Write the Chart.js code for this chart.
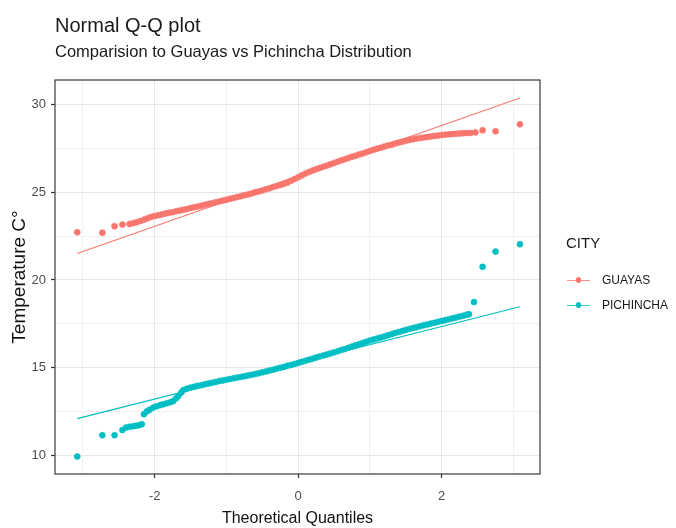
<!DOCTYPE html>
<html>
<head>
<meta charset="utf-8">
<script src="https://cdn.jsdelivr.net/npm/chart.js@4.4.1/dist/chart.umd.min.js"></script>
<style>
  html, body { margin: 0; padding: 0; background: #ffffff; }
  #wrap { position: relative; width: 676px; height: 528px; overflow: hidden; }
  #chart { position: absolute; left: 0; top: 0; }
  .lg { position: absolute; font-family: "Liberation Sans", Arial, sans-serif; color: #1a1a1a; white-space: nowrap; }
</style>
</head>
<body>
<div id="wrap">
  <canvas id="chart" width="676" height="528"></canvas>
  <div id="legend"></div>
</div>
<script>
// ---------------- DATA ----------------
const chartTitle = "Normal Q-Q plot";
const chartSubtitle = "Comparision to Guayas vs Pichincha Distribution";
const xAxisTitle = "Theoretical Quantiles";
const yAxisTitle = "Temperature C°";
const legendTitle = "CITY";
const seriesNames = ["GUAYAS", "PICHINCHA"];
const seriesColors = ["#F8766D", "#00BFC4"];

// Guayas sample quantiles (theoretical quantile, temperature)
const guayasX = [-3.08, -2.73, -2.56, -2.45,
  -2.35, -2.30, -2.25, -2.20, -2.15, -2.10, -2.05, -2.00, -1.95, -1.90, -1.85, -1.80,
  -1.75, -1.70, -1.65, -1.60, -1.55, -1.50, -1.45, -1.40, -1.35, -1.30, -1.25, -1.20,
  -1.15, -1.10, -1.05, -1.00, -0.95, -0.90, -0.85, -0.80, -0.75, -0.70, -0.65, -0.60,
  -0.55, -0.50, -0.45, -0.40, -0.35, -0.30, -0.25, -0.20, -0.15, -0.10, -0.05, 0.00,
  0.05, 0.10, 0.15, 0.20, 0.25, 0.30, 0.35, 0.40, 0.45, 0.50, 0.55, 0.60,
  0.65, 0.70, 0.75, 0.80, 0.85, 0.90, 0.95, 1.00, 1.05, 1.10, 1.15, 1.20,
  1.25, 1.30, 1.35, 1.40, 1.45, 1.50, 1.55, 1.60, 1.65, 1.70, 1.75, 1.80,
  1.85, 1.90, 1.95, 2.00, 2.05, 2.10, 2.15, 2.20, 2.25, 2.30, 2.35, 2.40,
  2.47, 2.57, 2.75, 3.09];
const guayasY = [22.72, 22.70, 23.07, 23.16,
  23.20, 23.24, 23.30, 23.36, 23.44, 23.52, 23.60, 23.65, 23.70, 23.74, 23.79, 23.83,
  23.87, 23.92, 23.96, 24.01, 24.05, 24.10, 24.15, 24.19, 24.24, 24.29, 24.34, 24.38,
  24.43, 24.48, 24.53, 24.58, 24.63, 24.68, 24.73, 24.78, 24.83, 24.88, 24.94, 25.00,
  25.05, 25.11, 25.17, 25.23, 25.30, 25.36, 25.42, 25.49, 25.56, 25.66, 25.76, 25.86,
  25.97, 26.07, 26.16, 26.24, 26.32, 26.39, 26.46, 26.53, 26.60, 26.68, 26.75, 26.82,
  26.89, 26.96, 27.03, 27.09, 27.16, 27.22, 27.29, 27.36, 27.43, 27.49, 27.55, 27.61,
  27.67, 27.72, 27.78, 27.84, 27.89, 27.94, 27.99, 28.03, 28.07, 28.10, 28.13, 28.16,
  28.19, 28.22, 28.24, 28.27, 28.29, 28.31, 28.33, 28.34, 28.36, 28.37, 28.38, 28.39,
  28.42, 28.54, 28.48, 28.88];

// Pichincha sample quantiles
const pichinchaX = [-3.08, -2.73, -2.56, -2.45, -2.40, -2.35, -2.30, -2.26, -2.22, -2.18,
  -2.15, -2.11, -2.07, -2.02, -1.97, -1.92, -1.88, -1.83, -1.78, -1.74, -1.70, -1.67,
  -1.63, -1.60, -1.55, -1.50,
  -1.45, -1.40, -1.35, -1.30, -1.25, -1.20, -1.15, -1.10, -1.05, -1.00, -0.95, -0.90,
  -0.85, -0.80, -0.75, -0.70, -0.65, -0.60, -0.55, -0.50, -0.45, -0.40, -0.35, -0.30,
  -0.25, -0.20, -0.15, -0.10, -0.05, 0.00, 0.05, 0.10, 0.15, 0.20, 0.25, 0.30,
  0.35, 0.40, 0.45, 0.50, 0.55, 0.60, 0.65, 0.70, 0.75, 0.80, 0.85, 0.90,
  0.95, 1.00, 1.05, 1.10, 1.15, 1.20, 1.25, 1.30, 1.35, 1.40, 1.45, 1.50,
  1.55, 1.60, 1.65, 1.70, 1.75, 1.80, 1.85, 1.90, 1.95, 2.00, 2.05, 2.10,
  2.15, 2.20, 2.25, 2.30, 2.35, 2.38,
  2.45, 2.57, 2.75, 3.09];
const pichinchaY = [9.93, 11.14, 11.14, 11.44, 11.58, 11.63, 11.65, 11.68, 11.71, 11.77,
  12.34, 12.50, 12.60, 12.72, 12.80, 12.86, 12.91, 12.97, 13.03, 13.10, 13.25, 13.38,
  13.58, 13.72, 13.80, 13.86,
  13.91, 13.96, 14.00, 14.05, 14.09, 14.14, 14.18, 14.23, 14.27, 14.31, 14.35, 14.39,
  14.43, 14.47, 14.51, 14.55, 14.59, 14.63, 14.68, 14.73, 14.78, 14.83, 14.88, 14.94,
  14.99, 15.04, 15.10, 15.15, 15.21, 15.27, 15.33, 15.39, 15.45, 15.51, 15.57, 15.63,
  15.69, 15.75, 15.81, 15.87, 15.93, 16.00, 16.06, 16.13, 16.20, 16.27, 16.34, 16.41,
  16.48, 16.54, 16.60, 16.66, 16.72, 16.78, 16.84, 16.91, 16.97, 17.03, 17.09, 17.15,
  17.21, 17.26, 17.31, 17.36, 17.41, 17.46, 17.51, 17.56, 17.61, 17.66, 17.71, 17.76,
  17.81, 17.86, 17.91, 17.96, 18.02, 18.05,
  18.74, 20.75, 21.62, 22.04];

// Reference (Q-Q) lines, endpoints
const qqLineX = [-3.08, 3.09];
const guayasLineY = [21.51, 30.38];
const pichinchaLineY = [12.09, 18.47];

// Axis ranges and tick settings
const xMin = -3.39, xMax = 3.37, xStep = 1, xLabelEvery = 2;
const yMin = 8.93, yMax = 31.41, yStep = 2.5, yLabelEvery = 5;
// -----------------------------------------------------------------------

const FONT = '"Liberation Sans", Arial, sans-serif';
const toPts = (xs, ys) => xs.map((x, i) => ({ x: x, y: ys[i] }));
const isMult = (v, m) => Math.abs(v / m - Math.round(v / m)) < 1e-6;

const panelBorder = {
  id: 'panelBorder',
  afterDatasetsDraw(chart) {
    const a = chart.chartArea, c = chart.ctx;
    c.save();
    c.strokeStyle = '#3a3a3a';
    c.lineWidth = 1.2;
    c.strokeRect(a.left, a.top, a.right - a.left, a.bottom - a.top);
    c.restore();
  }
};

const gridColor = (ctx, m) => (ctx.tick && isMult(ctx.tick.value, m)) ? '#e6e6e6' : '#f1f1f1';
const tickColor = (ctx, m) => (ctx.tick && isMult(ctx.tick.value, m)) ? '#333333' : 'rgba(0,0,0,0)';

new Chart(document.getElementById('chart'), {
  type: 'scatter',
  data: {
    datasets: [
      { label: seriesNames[0] + ' line', data: toPts(qqLineX, guayasLineY), showLine: true,
        borderColor: seriesColors[0], borderWidth: 1.1, pointRadius: 0, fill: false, order: 0 },
      { label: seriesNames[1] + ' line', data: toPts(qqLineX, pichinchaLineY), showLine: true,
        borderColor: seriesColors[1], borderWidth: 1.1, pointRadius: 0, fill: false, order: 0 },
      { label: seriesNames[0], data: toPts(guayasX, guayasY),
        backgroundColor: seriesColors[0], borderColor: seriesColors[0], borderWidth: 0.6, pointRadius: 3, order: 1 },
      { label: seriesNames[1], data: toPts(pichinchaX, pichinchaY),
        backgroundColor: seriesColors[1], borderColor: seriesColors[1], borderWidth: 0.6, pointRadius: 3, order: 1 }
    ]
  },
  options: {
    responsive: false,
    animation: false,
    devicePixelRatio: 1,
    layout: { padding: { left: 8, right: 136, top: 0, bottom: 0 } },
    plugins: {
      legend: { display: false },
      tooltip: { enabled: false },
      title: { display: true, text: chartTitle, align: 'start', fullSize: false,
        color: '#1a1a1a', font: { family: FONT, size: 20, weight: 'normal' }, padding: { top: 14, bottom: 2 } },
      subtitle: { display: true, text: chartSubtitle, align: 'start', fullSize: false,
        color: '#1a1a1a', font: { family: FONT, size: 16.5, weight: 'normal' }, padding: { top: 3, bottom: 17.2 } }
    },
    scales: {
      x: {
        type: 'linear', position: 'bottom', min: xMin, max: xMax,
        afterFit: s => { s.height = 54; },
        border: { display: false },
        grid: { color: c => gridColor(c, xLabelEvery), lineWidth: 1, tickLength: 4, tickColor: c => tickColor(c, xLabelEvery), tickWidth: 1.2 },
        ticks: { stepSize: xStep, includeBounds: false, autoSkip: false, maxRotation: 0, padding: 11,
          color: '#4d4d4d', font: { family: FONT, size: 13 },
          callback: v => isMult(v, xLabelEvery) ? String(Math.round(v)) : '' },
        title: { display: true, text: xAxisTitle, color: '#111', font: { family: FONT, size: 16 }, padding: 0 }
      },
      y: {
        type: 'linear', position: 'left', min: yMin, max: yMax,
        afterFit: s => { s.width = 47; },
        border: { display: false },
        grid: { color: c => gridColor(c, yLabelEvery), lineWidth: 1, tickLength: 4, tickColor: c => tickColor(c, yLabelEvery), tickWidth: 1.2 },
        ticks: { stepSize: yStep, includeBounds: false, autoSkip: false, padding: 5,
          color: '#4d4d4d', font: { family: FONT, size: 13 },
          callback: v => isMult(v, yLabelEvery) ? String(Math.round(v)) : '' },
        title: { display: true, text: yAxisTitle, color: '#111', font: { family: FONT, size: 19 }, padding: 0 }
      }
    }
  },
  plugins: [panelBorder]
});

// Legend (HTML, built from the series arrays)
(function buildLegend() {
  const lg = document.getElementById('legend');
  const t = document.createElement('div');
  t.className = 'lg';
  t.textContent = legendTitle;
  t.style.cssText = 'left:566px;top:235px;font-size:15px;line-height:15px;';
  lg.appendChild(t);
  seriesNames.forEach((name, i) => {
    const cy = 280 + i * 25;
    const line = document.createElement('div');
    line.style.cssText = `position:absolute;left:567px;top:${cy - 0.5}px;width:23px;height:1px;background:${seriesColors[i]};opacity:0.8;`;
    const dot = document.createElement('div');
    dot.style.cssText = `position:absolute;left:${578.5 - 2.8}px;top:${cy - 2.8}px;width:5.6px;height:5.6px;border-radius:50%;background:${seriesColors[i]};`;
    const lab = document.createElement('div');
    lab.className = 'lg';
    lab.textContent = name;
    lab.style.cssText = `left:602px;top:${cy - 7}px;font-size:12px;line-height:14px;`;
    lg.appendChild(line); lg.appendChild(dot); lg.appendChild(lab);
  });
})();
</script>
</body>
</html>
